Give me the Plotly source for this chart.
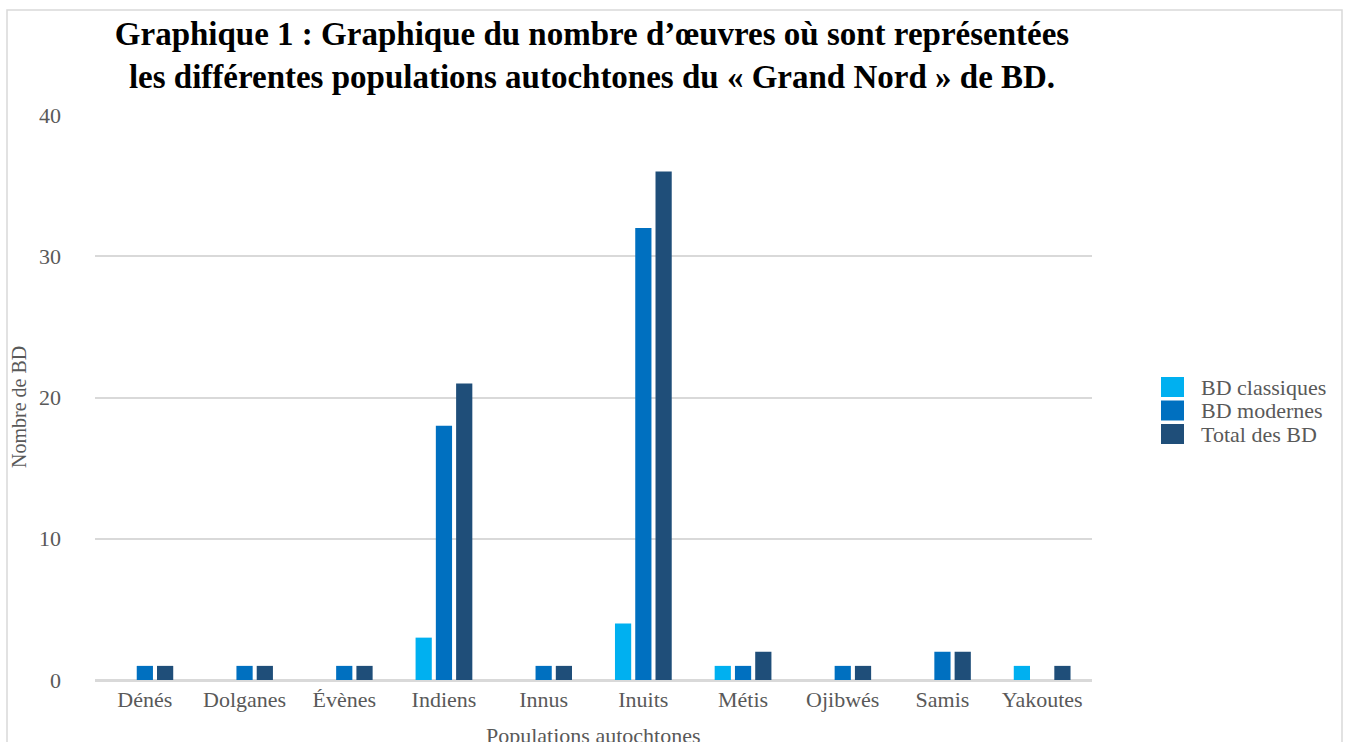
import plotly.graph_objects as go

# Populations and counts of comic books (BD) per population
populations = ["Dénés", "Dolganes", "Évènes", "Indiens", "Innus",
               "Inuits", "Métis", "Ojibwés", "Samis", "Yakoutes"]
bd_classiques = [0, 0, 0, 3, 0, 4, 1, 0, 0, 1]
bd_modernes = [1, 1, 1, 18, 1, 32, 1, 1, 2, 0]
total_bd = [1, 1, 1, 21, 1, 36, 2, 1, 2, 1]

series_names = ["BD classiques", "BD modernes", "Total des BD"]
series_values = [bd_classiques, bd_modernes, total_bd]
series_colors = ["#00B0F0", "#0070C0", "#1F4E79"]

y_ticks = [0, 10, 20, 30, 40]

FONT = "Liberation Serif, Times New Roman, serif"
GREY = "#595959"

fig = go.Figure()
for name, vals, col in zip(series_names, series_values, series_colors):
    fig.add_trace(go.Bar(x=populations, y=vals, name=name,
                         marker=dict(color=col, line=dict(width=0)),
                         showlegend=False))

W, H = 1347, 742
L, R, T, B = 95, 1092, 115, 680


def px_x(p):
    return (p - L) / (R - L)


def px_y(p):
    return (B - p) / (B - T)


shapes = [
    # outer chart border
    dict(type="rect", xref="paper", yref="paper",
         x0=px_x(7), x1=px_x(1342), y0=px_y(780), y1=px_y(10),
         line=dict(color="#D9D9D9", width=1.5), fillcolor="rgba(0,0,0,0)",
         layer="below"),
]
annotations = [
    # axis titles
    dict(xref="paper", yref="paper", x=px_x(19), y=px_y(407),
         xanchor="center", yanchor="middle", showarrow=False, textangle=-90,
         text="Nombre de BD", font=dict(family=FONT, size=20, color=GREY)),
    dict(xref="paper", yref="paper", x=px_x(593), y=px_y(736),
         xanchor="center", yanchor="middle", showarrow=False,
         text="Populations autochtones", font=dict(family=FONT, size=22, color=GREY)),
]

# legend drawn as swatches with labels
for i, (name, col) in enumerate(zip(series_names, series_colors)):
    cy = 387 + i * 23.5
    shapes.append(dict(type="rect", xref="paper", yref="paper",
                       x0=px_x(1161), x1=px_x(1184),
                       y0=px_y(cy - 10), y1=px_y(cy + 10),
                       fillcolor=col, line=dict(width=0)))
    annotations.append(dict(xref="paper", yref="paper", x=px_x(1199), y=px_y(cy),
                            xanchor="left", yanchor="middle", showarrow=False,
                            text=name, font=dict(family=FONT, size=22, color=GREY)))

fig.update_layout(
    width=W, height=H,
    margin=dict(l=L, r=W - R, t=T, b=H - B, autoexpand=False),
    paper_bgcolor="white", plot_bgcolor="white",
    font=dict(family=FONT, color=GREY, size=22),
    title=dict(
        text="Graphique 1 : Graphique du nombre d’œuvres où sont représentées<br>"
             "les différentes populations autochtones du « Grand Nord » de BD.",
        x=px_x(592), xref="paper", xanchor="center",
        y=1 - 45 / H, yanchor="middle",
        font=dict(family=FONT, size=33, color="black", weight="bold"),
    ),
    barmode="group", bargap=0.39, bargroupgap=0.2,
    shapes=shapes, annotations=annotations,
    xaxis=dict(
        automargin=False,
        showgrid=False, showline=True, linecolor="#D9D9D9", linewidth=2,
        ticks="", tickfont=dict(family=FONT, size=22, color=GREY),
        ticklabelstandoff=-1,
    ),
    yaxis=dict(
        automargin=False,
        range=[0, 40], tickvals=y_ticks,
        showgrid=True, gridcolor="#D9D9D9", gridwidth=2,
        zeroline=True, zerolinecolor="#D9D9D9", zerolinewidth=2,
        showline=False, ticks="",
        tickfont=dict(family=FONT, size=22, color=GREY),
        ticklabelstandoff=33,
    ),
)

fig.write_html("out.html")
